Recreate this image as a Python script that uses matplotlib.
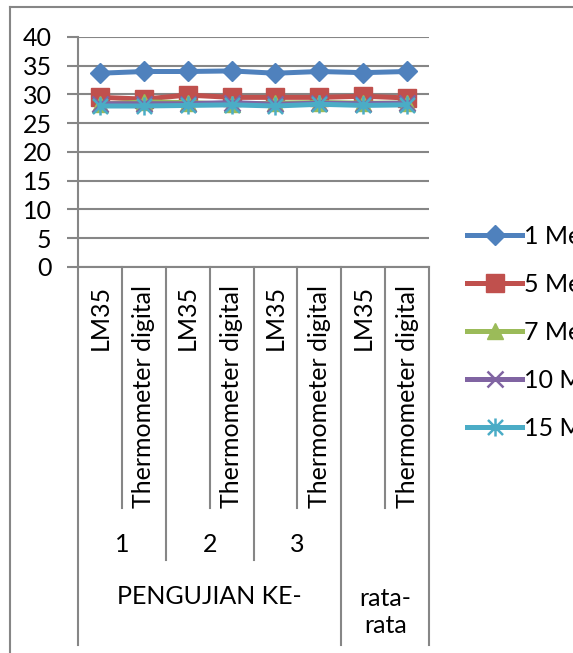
import matplotlib
matplotlib.use('Agg')
import matplotlib.pyplot as plt
import matplotlib.transforms as mtransforms
from matplotlib.path import Path
import numpy as np

plt.rcParams['font.family'] = ['Lato', 'DejaVu Sans']

# data
sensor = ['LM35', 'Thermometer digital'] * 4
group = ['1', '2', '3', '']
outer = ['PENGUJIAN KE-', 'rata-\nrata']
series = ['1 Menit', '5 Menit', '7 Menit', '10 Menit', '15 Menit']
m1 = [33.7, 34.0, 34.0, 34.1, 33.7, 34.0, 33.8, 34.0]
m5 = [29.5, 29.2, 29.9, 29.5, 29.5, 29.5, 29.7, 29.4]
m7 = [28.3, 28.7, 28.6, 28.3, 28.5, 28.6, 28.5, 28.5]
m10 = [28.4, 28.4, 28.4, 28.6, 28.3, 28.5, 28.4, 28.5]
m15 = [28.0, 28.0, 28.1, 28.2, 28.0, 28.3, 28.1, 28.2]

W, H = 573, 653
fig = plt.figure(figsize=(W / 100, H / 100), dpi=100)


def fx(px):
    return px / W


def fy(py):
    return 1 - py / H


ax = fig.add_axes([fx(78), fy(267), fx(429) - fx(78), fy(37) - fy(267)])

gray = '#868686'
fs = 18

# asterisk marker like excel
star = Path([(-1, -1), (1, 1), (-1, 1), (1, -1), (0, -1.2), (0, 1.2)],
            [Path.MOVETO, Path.LINETO, Path.MOVETO, Path.LINETO, Path.MOVETO, Path.LINETO])

x = np.arange(len(m1)) + 0.5
ax.plot(x, m1, color='#4F81BD', lw=3.6, marker='D', ms=10, label=series[0], zorder=3)
ax.plot(x, m5, color='#C0504D', lw=3.6, marker='s', ms=13, label=series[1], zorder=3)
ax.plot(x, m7, color='#9BBB59', lw=3.6, marker='^', ms=12, label=series[2], zorder=3)
ax.plot(x, m10, color='#8064A2', lw=3.6, marker='x', ms=11, mew=1.8, label=series[3], zorder=3)
ax.plot(x, m15, color='#4BACC6', lw=3.6, marker=star, ms=13, mew=1.8, label=series[4], zorder=3)

ax.set_xlim(0, 8)
ax.set_ylim(0, 40)
ax.set_yticks(range(0, 41, 5))
ax.yaxis.grid(True, color=gray, lw=1.5)
ax.set_axisbelow(True)
ax.tick_params(axis='y', length=8, width=1.5, color=gray, pad=11, labelsize=fs)
ax.set_xticks([])
for s in ['top', 'right']:
    ax.spines[s].set_visible(False)
for s in ['left', 'bottom']:
    ax.spines[s].set_color(gray)
    ax.spines[s].set_linewidth(1.5)

# multi level category axis
tr = mtransforms.blended_transform_factory(ax.transData, fig.transFigure)
for i in range(9):
    if i in (0, 6, 8):
        yb = 645
    elif i % 2 == 0:
        yb = 560
    else:
        yb = 508
    ax.plot([i, i], [fy(267), fy(yb)], color=gray, lw=1.5, transform=tr, clip_on=False)

for i, lab in enumerate(sensor):
    ax.text(i + 0.5, fy(285), lab, rotation=90, ha='center', va='top',
            fontsize=fs, transform=tr)
for i, lab in enumerate(group):
    ax.text(2 * i + 1, fy(545), lab, ha='center', va='center', fontsize=fs, transform=tr)
ax.text(3, fy(597), outer[0], ha='center', va='center', fontsize=fs, transform=tr)
ax.text(7, fy(612), outer[1], ha='center', va='center', fontsize=fs, transform=tr,
        linespacing=1.2)

# chart border
fig.add_artist(plt.Line2D([fx(10), 1], [fy(6.5), fy(6.5)], color=gray, lw=1.5))
fig.add_artist(plt.Line2D([fx(10), fx(10)], [fy(6.5), 0], color=gray, lw=1.5))

fig.legend(loc='upper left', bbox_to_anchor=(fx(467), fy(225)), frameon=False,
           fontsize=fs, handlelength=2.2, handletextpad=0.1, labelspacing=1.0,
           borderpad=0, borderaxespad=0)

fig.savefig('out.png', dpi=100)
